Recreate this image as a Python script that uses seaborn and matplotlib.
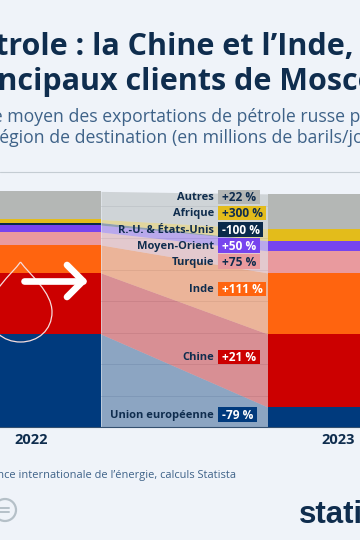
import matplotlib.pyplot as plt
import numpy as np
import seaborn as sns
from matplotlib.patches import Circle, PathPatch, Rectangle
from matplotlib.path import Path

years = ['2022', '2023']
regions = ['Union européenne', 'Chine', 'Inde', 'Turquie', 'Moyen-Orient',
           'R.-U. & États-Unis', 'Afrique', 'Autres']
values_2022 = [2.95, 1.94, 0.89, 0.41, 0.22, 0.08, 0.10, 0.89]
values_2023 = [0.63, 2.32, 1.94, 0.70, 0.32, 0.00, 0.38, 1.11]
changes = ['-79 %', '+21 %', '+111 %', '+75 %', '+50 %', '-100 %', '+300 %', '+22 %']
colors = ['#003A7D', '#CC0000', '#FF640F', '#E99A9E', '#7744EE', '#0A2A4A', '#E3BC1B', '#B4B7B5']
change_text_colors = ['white', 'white', 'white', '#0F2D4E', 'white', 'white', '#0F2D4E', '#0F2D4E']

# étiquettes, en pixels
label_y = [414.5, 357, 289, 261.5, 245.5, 229.5, 213, 197]
chip_w = [39, 42, 48, 42, 42, 45, 48, 42]

BG = '#EFF3F9'
NAVY = '#0F2D4E'
BLUE_TEXT = '#3E6288'
FONT = 'Open Sans'
BAR_WIDTH = 0.456

sns.set_theme(style='white')
plt.rcParams['font.family'] = [FONT, 'DejaVu Sans']

fig = plt.figure(figsize=(3.6, 5.4), dpi=100, facecolor=BG)

# 31,5 px par million de barils/jour, base à y=427
ymax = 7.6
ax = fig.add_axes([0, (540 - 427) / 540, 1, ymax * 31.5 / 540], facecolor=BG)

bottom_2022 = np.cumsum([0] + values_2022[:-1])
bottom_2023 = np.cumsum([0] + values_2023[:-1])
flow_x = [BAR_WIDTH / 2, 1 - BAR_WIDTH / 2]

for i, region in enumerate(regions):
    sns.barplot(
        x=years,
        y=[values_2022[i], values_2023[i]],
        bottom=[bottom_2022[i], bottom_2023[i]],
        color=colors[i],
        saturation=1,
        width=BAR_WIDTH,
        linewidth=0,
        ax=ax,
        zorder=3,
    )
    # bandes entre les deux barres
    ax.fill_between(
        flow_x,
        [bottom_2022[i], bottom_2023[i]],
        [bottom_2022[i] + values_2022[i], bottom_2023[i] + values_2023[i]],
        color=colors[i],
        alpha=0.4,
        linewidth=0,
        zorder=2,
    )

# léger voile gris sur toutes les bandes
ax.fill_between(flow_x, [0, 0], [sum(values_2022), sum(values_2023)],
                color='#6F7C89', alpha=0.07, linewidth=0, zorder=2.5)

ax.set_xlim(-31 / 307, 329 / 307)
ax.set_ylim(0, ymax)
ax.set_yticks(range(1, 8))
ax.set_yticklabels([])
ax.grid(axis='y', color='#B4BCC6', linewidth=0.5, alpha=0.55, zorder=1)
ax.set_axisbelow(True)
ax.tick_params(axis='x', length=0, pad=4, labelsize=10.5, colors=NAVY)
for tick in ax.get_xticklabels():
    tick.set_fontweight('bold')
sns.despine(ax=ax, left=True)
ax.spines['bottom'].set_color('#34506F')
ax.spines['bottom'].set_linewidth(0.8)
ax.set_ylabel('')

# calque en pixels pour les textes et les pictogrammes
deco = fig.add_axes([0, 0, 1, 1], facecolor='none')
deco.set_xlim(0, 360)
deco.set_ylim(540, 0)
deco.axis('off')

deco.plot([0, 360], [172, 172], color='#C4CCD3', linewidth=0.8)

deco.text(354, 55, "Pétrole : la Chine et l’Inde,", ha='right', va='baseline',
          fontsize=22, fontweight='bold', color=NAVY)
deco.text(-45, 90, 'principaux clients de Moscou', ha='left', va='baseline',
          fontsize=22, fontweight='bold', color=NAVY)
deco.text(-60, 122, 'Volume moyen des exportations de pétrole russe par', ha='left',
          va='baseline', fontsize=12.7, color=BLUE_TEXT)
deco.text(-8, 143, 'région de destination (en millions de barils/jour)', ha='left',
          va='baseline', fontsize=12.7, color=BLUE_TEXT)

for i, region in enumerate(regions):
    deco.text(214, label_y[i] - 0.8, region, ha='right', va='center_baseline', fontsize=8,
              fontweight='bold', color=NAVY)
    deco.add_patch(Rectangle((218, label_y[i] - 7.25), chip_w[i], 14.5,
                             facecolor=colors[i], edgecolor='none'))
    deco.text(222.5, label_y[i] - 0.8, changes[i], ha='left', va='center_baseline', fontsize=8.6,
              fontweight='bold', color=change_text_colors[i])

# goutte et flèche
drop = Path(
    [(20.5, 262), (30, 275), (52, 292), (52, 312), (52, 330), (38, 342), (20.5, 342),
     (3, 342), (-11, 330), (-11, 312), (-11, 292), (11, 275), (20.5, 262)],
    [Path.MOVETO] + [Path.CURVE4] * 12,
)
deco.add_patch(PathPatch(drop, facecolor='none', edgecolor='#F6DDDD', linewidth=0.9))
deco.plot([24, 83], [281, 281], color='white', linewidth=4.8, solid_capstyle='round')
deco.plot([67, 83, 67], [265, 281, 297], color='white', linewidth=4.8,
          solid_capstyle='round', solid_joinstyle='round')

deco.text(236, 478, 'Source : Agence internationale de l’énergie, calculs Statista',
          ha='right', va='baseline', fontsize=7.9, color=BLUE_TEXT)

deco.add_patch(Circle((5, 510), 11, facecolor='none', edgecolor='#B5C0C8', linewidth=1.6))
deco.plot([0, 8.5], [508, 508], color='#B5C0C8', linewidth=1.4)
deco.plot([0, 8.5], [512, 512], color='#B5C0C8', linewidth=1.4)

deco.text(299, 523, 'statista', ha='left', va='baseline', fontsize=22.5, fontweight='bold',
          color=NAVY, family=['Liberation Sans', 'DejaVu Sans'])

fig.savefig('out.png', dpi=100, facecolor=BG)
